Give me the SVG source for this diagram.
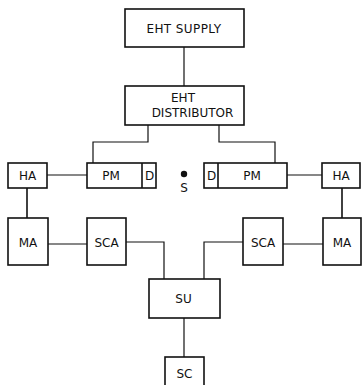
<svg xmlns="http://www.w3.org/2000/svg" width="362" height="385" viewBox="0 0 362 385">
<style>
rect{fill:#fff;stroke:#111;stroke-width:1.6}
.c line,.c polyline{fill:none;stroke:#111;stroke-width:1.2}
text{font-family:"DejaVu Sans","Liberation Sans",sans-serif;font-size:12px;fill:#111;text-anchor:middle}
</style>
<rect x="0" y="0" width="362" height="385" style="stroke:none"/>
<g class="c" id="connectors">
<line x1="184" y1="47" x2="184" y2="86"/>
<polyline points="148,125 148,142 93,142 93,163"/>
<polyline points="219,125 219,142 275,142 275,163"/>
<line x1="47" y1="175" x2="87" y2="175"/>
<line x1="287" y1="175" x2="322" y2="175"/>
<line x1="27" y1="188" x2="27" y2="218" style="stroke-width:1.6"/>
<line x1="342" y1="188" x2="342" y2="218" style="stroke-width:1.6"/>
<line x1="48" y1="244" x2="87" y2="244"/>
<line x1="283" y1="244" x2="323" y2="244"/>
<polyline points="126,242 164,242 164,279"/>
<polyline points="243,242 204,242 204,279"/>
<line x1="184" y1="318" x2="184" y2="357"/>
</g>
<g id="eht-supply"><rect x="125" y="9" width="119" height="38"/><text x="184" y="33" style="letter-spacing:0.4px">EHT  SUPPLY</text></g>
<g id="eht-distributor"><rect x="125" y="86" width="119" height="39"/><text x="183" y="102">EHT</text><text x="192.5" y="117">DISTRIBUTOR</text></g>
<g id="ha-left"><rect x="8" y="163" width="39" height="25"/><text x="27.5" y="180">HA</text></g>
<g id="pm-left"><rect x="87" y="163" width="69" height="25"/><line x1="142" y1="163" x2="142" y2="188" style="stroke:#111;stroke-width:1.6"/><text x="111" y="180">PM</text><text x="149.5" y="180">D</text></g>
<g id="s"><circle cx="184" cy="174" r="3.2" fill="#111"/><text x="184" y="192">S</text></g>
<g id="pm-right"><rect x="204" y="163" width="83" height="25"/><line x1="218" y1="163" x2="218" y2="188" style="stroke:#111;stroke-width:1.6"/><text x="211.5" y="180">D</text><text x="252" y="180">PM</text></g>
<g id="ha-right"><rect x="322" y="163" width="38" height="25"/><text x="341" y="180">HA</text></g>
<g id="ma-left"><rect x="8" y="218" width="40" height="47"/><text x="28" y="247">MA</text></g>
<g id="sca-left"><rect x="87" y="218" width="39" height="47"/><text x="106.5" y="247">SCA</text></g>
<g id="sca-right"><rect x="243" y="218" width="40" height="47"/><text x="263" y="247">SCA</text></g>
<g id="ma-right"><rect x="323" y="218" width="38" height="47"/><text x="342" y="247">MA</text></g>
<g id="su"><rect x="149" y="279" width="71" height="39"/><text x="183.5" y="303">SU</text></g>
<g id="sc"><rect x="165" y="357" width="39" height="40"/><text x="184.5" y="378">SC</text></g>
</svg>
